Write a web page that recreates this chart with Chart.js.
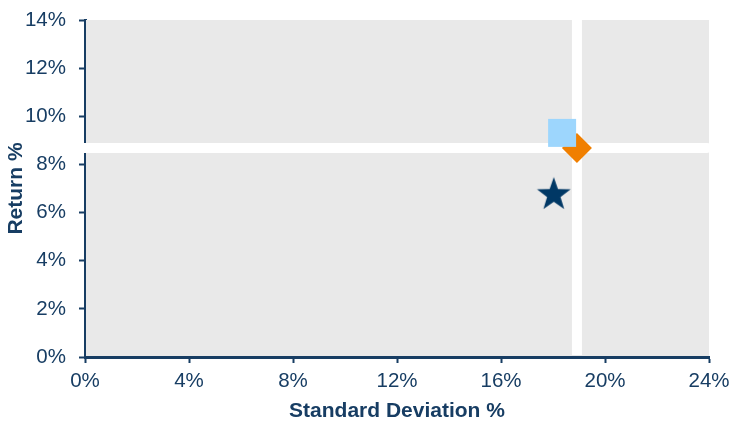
<!DOCTYPE html>
<html>
<head>
<meta charset="utf-8">
<script src="https://cdn.jsdelivr.net/npm/chart.js@4"></script>
<style>
    html, body { margin: 0; padding: 0; background: #fff; }
    canvas { display: block; }
</style>
</head>
<body>
<canvas id="riskChart" width="733" height="422"></canvas>
<script>
// === Data ===
const portfolioNames = ['Portfolio', 'Alternative', 'Benchmark'];
const stdDevValues = [18.03, 18.35, 18.92];   // x, %
const returnValues = [6.74, 9.31, 8.68];      // y, %
const xTicks = [0, 4, 8, 12, 16, 20, 24];
const yTicks = [0, 2, 4, 6, 8, 10, 12, 14];

const navy = '#173d63';
const font = "Arial, 'Liberation Sans', sans-serif";

// === Star marker (Chart.js 'star' is only a line asterisk) ===
function makeStar(radius, color) {
    const size = Math.ceil(radius * 2 + 2);
    const c = document.createElement('canvas');
    c.width = size; c.height = size;
    const ctx = c.getContext('2d');
    const cx = size / 2, cy = size / 2;
    ctx.beginPath();
    for (let i = 0; i < 10; i++) {
        const r = i % 2 === 0 ? radius : radius * 0.4;
        const a = -Math.PI / 2 + i * Math.PI / 5;
        ctx.lineTo(cx + r * Math.cos(a), cy + r * Math.sin(a));
    }
    ctx.closePath();
    ctx.fillStyle = color;
    ctx.fill();
    return c;
}

// grey plot area split by white lines through the benchmark point
const quadrantPlugin = {
    id: 'quadrants',
    beforeDatasetsDraw(chart) {
        const { ctx, chartArea: a, scales } = chart;
        const bx = scales.x.getPixelForValue(stdDevValues[2]);
        const by = scales.y.getPixelForValue(returnValues[2]);
        ctx.save();
        ctx.fillStyle = '#e9e9e9';
        ctx.fillRect(a.left + 1, a.top, a.right - a.left - 1, a.bottom - a.top - 1);
        ctx.strokeStyle = '#ffffff';
        ctx.lineWidth = 10;
        ctx.lineCap = 'butt';
        ctx.beginPath();
        ctx.moveTo(bx, a.top);
        ctx.lineTo(bx, a.bottom - 2);
        ctx.stroke();
        ctx.lineCap = 'round';
        ctx.beginPath();
        ctx.moveTo(a.left - 3, by);
        ctx.lineTo(a.right - 2, by);
        ctx.stroke();
        ctx.restore();
    }
};

function point(i) { return [{ x: stdDevValues[i], y: returnValues[i] }]; }

const chart = new Chart(document.getElementById('riskChart').getContext('2d'), {
    type: 'scatter',
    data: {
        datasets: [
            {
                label: portfolioNames[1],
                data: point(1),
                pointStyle: 'rect',
                pointRadius: 19.8,
                pointHoverRadius: 19.8,
                backgroundColor: '#9dd6fd',
                borderWidth: 0
            },
            {
                label: portfolioNames[2],
                data: point(2),
                pointStyle: 'rectRot',
                pointRadius: 15,
                pointHoverRadius: 15,
                backgroundColor: '#f07f00',
                borderWidth: 0
            },
            {
                label: portfolioNames[0],
                data: point(0),
                pointStyle: makeStar(17.7, '#003865'),
                backgroundColor: '#003865',
                borderWidth: 0
            }
        ]
    },
    options: {
        responsive: false,
        animation: false,
        layout: { padding: { top: 20, right: 24, left: 0, bottom: 0 } },
        plugins: {
            legend: { display: false },
            tooltip: { enabled: false }
        },
        scales: {
            x: {
                min: 0, max: 24,
                afterBuildTicks: s => { s.ticks = xTicks.map(v => ({ value: v })); },
                afterFit: s => { s.height = 65; s.paddingLeft = 0; s.paddingRight = 0; },
                border: { color: navy, width: 3 },
                grid: { drawOnChartArea: false, color: navy, tickLength: 6, tickWidth: 2 },
                ticks: {
                    color: navy, padding: 8,
                    font: { family: font, size: 20.5, lineHeight: 1 },
                    callback: v => v + '%'
                },
                title: {
                    display: true, text: 'Standard Deviation %', color: navy,
                    font: { family: font, size: 21, weight: 'bold', lineHeight: 1 },
                    padding: { top: 0, bottom: 0 }
                }
            },
            y: {
                min: 0, max: 14,
                afterBuildTicks: s => { s.ticks = yTicks.map(v => ({ value: v })); },
                afterFit: s => { s.width = 85; s.paddingTop = 0; s.paddingBottom = 0; },
                border: { color: navy, width: 3 },
                grid: { drawOnChartArea: false, color: navy, tickLength: 6, tickWidth: 2 },
                ticks: {
                    color: navy, padding: 13,
                    font: { family: font, size: 20.5, lineHeight: 1 },
                    callback: v => v + '%'
                },
                title: {
                    display: true, text: 'Return %', color: navy,
                    font: { family: font, size: 21, weight: 'bold', lineHeight: 1 },
                    padding: { top: 5.5, bottom: 0 }
                }
            }
        }
    },
    plugins: [quadrantPlugin]
});
</script>
</body>
</html>
